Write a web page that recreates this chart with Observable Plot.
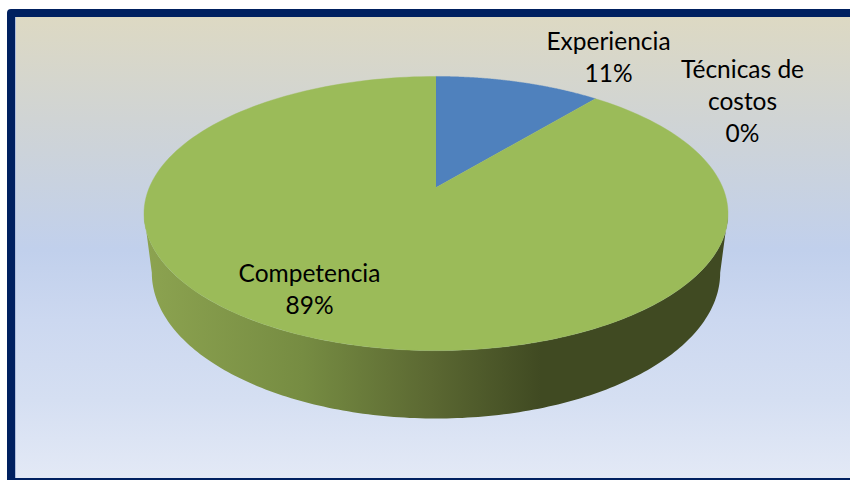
<!DOCTYPE html>
<html>
<head>
<meta charset="utf-8">
<script src="https://cdn.jsdelivr.net/npm/d3@7"></script>
<script src="https://cdn.jsdelivr.net/npm/@observablehq/plot@0.6"></script>
<style>
html, body { margin: 0; padding: 0; width: 850px; height: 480px; overflow: hidden; background: #fff; }
#frame {
  position: absolute; left: 7px; top: 9px; width: 900px; height: 461px;
  border: 8px solid #002060; border-radius: 4px; box-sizing: content-box;
  box-shadow: inset 1px 0 0 #aebcdc;
  background: linear-gradient(180deg, #DDD9C3 0%, #D0D4D4 22%, #C1D0EC 50.5%, #CCD8F0 65.8%, #D5DFF2 83%, #E3E9F6 100%);
}
#chart { position: absolute; left: 0; top: 0; }
</style>
</head>
<body>
<div id="frame"></div>
<div id="chart"></div>
<script>
const categories = ["Experiencia", "Técnicas de\ncostos", "Competencia"];
const values = [11, 0, 89];
const sliceColors = ["#4F81BD", "#C0504D", "#9BBB59"];

// Perspective of the tilted disc
const cx = 435.5, apexTop = 187, A = -96.6, k = 0.19, C = 286.7;
const apexBottom = 244.6, A2 = -94, C2 = 279;
const project = (a, r = 1, apex = apexTop, ay = A, cw = C) => {
  const px = r * Math.sin(a), py = r * Math.cos(a), d = 1 + k * py;
  return { x: cx + cw * px / d, y: (apex + ay * py) / d };
};
const samples = (a0, a1, n = 180) => d3.range(n + 1).map(i => a0 + (a1 - a0) * i / n);

const arcs = d3.pie().sort(null).value(d => d)(values);
const slices = arcs.filter(s => s.endAngle > s.startAngle).flatMap(s => [
  { ...project(0, 0), slice: s.index },
  ...samples(s.startAngle, s.endAngle).map(a => ({ ...project(a), slice: s.index }))
]);

// Outline of the visible wall: lower rim, then upper rim back
const limb = Math.acos(-k);
const wall = [
  ...samples(limb, 2 * Math.PI - limb).map(a => project(a, 1, apexBottom, A2, C2)),
  ...samples(2 * Math.PI - limb, limb).map(a => project(a))
];

const labelAnchors = [[608, 55], [742, 99.5], [309, 287]];
const labels = categories.map((c, i) => ({
  text: `${c}\n${values[i]}%`, x: labelAnchors[i][0], y: labelAnchors[i][1]
}));

const wallGradient = () => {
  const stops = [[0, "#8CA350"], [0.27, "#768C42"], [0.49, "#5B6832"], [0.68, "#404A22"], [1, "#404A22"]];
  const ns = "http://www.w3.org/2000/svg";
  const defs = document.createElementNS(ns, "defs");
  const g = document.createElementNS(ns, "linearGradient");
  g.setAttribute("id", "wallFill");
  g.setAttribute("gradientUnits", "userSpaceOnUse");
  g.setAttribute("x1", 146); g.setAttribute("x2", 726);
  g.setAttribute("y1", 0); g.setAttribute("y2", 0);
  for (const [o, c] of stops) {
    const s = document.createElementNS(ns, "stop");
    s.setAttribute("offset", o); s.setAttribute("stop-color", c);
    g.appendChild(s);
  }
  defs.appendChild(g);
  return defs;
};

const chart = Plot.plot({
  width: 850, height: 480, margin: 0,
  x: { domain: [0, 850], axis: null },
  y: { domain: [480, 0], axis: null },
  style: { background: "transparent" },
  marks: [
    wallGradient,
    Plot.line(wall, { x: "x", y: "y", fill: "url(#wallFill)", stroke: "none" }),
    Plot.line(slices, {
      x: "x", y: "y", z: "slice",
      fill: d => sliceColors[d.slice], stroke: d => sliceColors[d.slice], strokeWidth: 0.4
    }),
    Plot.text(labels, {
      x: "x", y: "y", text: "text", fill: "#000", stroke: "none",
      fontFamily: "Lato", fontSize: 24.5, lineHeight: 1.31, textAnchor: "middle"
    })
  ]
});
document.getElementById("chart").appendChild(chart);
</script>
</body>
</html>
